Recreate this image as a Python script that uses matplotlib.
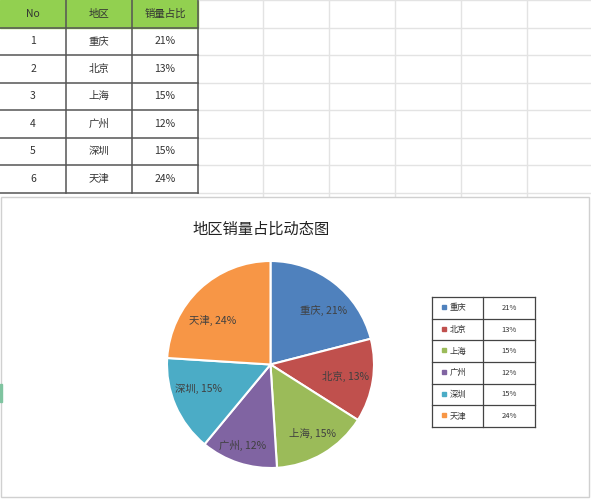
import numpy as np
import matplotlib.pyplot as plt
from matplotlib.patches import Rectangle

plt.rcParams['font.family'] = ['Noto Sans CJK SC', 'DejaVu Sans']

# datos
nums = [1, 2, 3, 4, 5, 6]
regions = ['重庆', '北京', '上海', '广州', '深圳', '天津']
shares = [21, 13, 15, 12, 15, 24]
headers = ['No', '地区', '销量占比']
title = '地区销量占比动态图'
colors = ['#4F81BD', '#C0504D', '#9BBB59', '#8064A2', '#4BACC6', '#F79646']

W, H = 591, 500
fig = plt.figure(figsize=(W / 100, H / 100), dpi=100)

# fondo tipo hoja de cálculo (coordenadas en píxeles)
bg = fig.add_axes([0, 0, 1, 1])
bg.set_xlim(0, W)
bg.set_ylim(H, 0)
bg.axis('off')

grid_c = '#E3E3E3'
row_y = [0, 27.5, 55, 82.5, 110, 137.5, 165, 193]
col_x = [198, 263, 329, 395, 461, 527]
for y in row_y:
    bg.plot([198, W], [y, y], color=grid_c, lw=1)
for x in col_x[1:]:
    bg.plot([x, x], [0, 197], color=grid_c, lw=1)

# tabla de datos
tab_x = [0, 66, 132, 198]
bg.add_patch(Rectangle((0, 0), 198, row_y[1], color='#92D050', zorder=1))
for y in row_y[1:]:
    bg.plot([0, 198], [y, y], color='#555555', lw=1.1, zorder=2)
for x in tab_x[1:]:
    bg.plot([x, x], [0, row_y[-1]], color='#555555', lw=1.1, zorder=2)
cx = [33, 99, 165]
for j, h in enumerate(headers):
    bg.text(cx[j], row_y[1] / 2, h, ha='center', va='center', fontsize=7.5, color='#333333')
for i in range(len(nums)):
    yc = (row_y[i + 1] + row_y[i + 2]) / 2
    bg.text(cx[0], yc, str(nums[i]), ha='center', va='center', fontsize=7.5, color='#333333')
    bg.text(cx[1], yc, regions[i], ha='center', va='center', fontsize=7.5, color='#333333')
    bg.text(cx[2], yc, f'{shares[i]}%', ha='center', va='center', fontsize=7.5, color='#333333')

# área del gráfico
bg.add_patch(Rectangle((1, 197), 588, 300, facecolor='white', edgecolor='#D0D0D0', lw=1, zorder=3))
bg.add_patch(Rectangle((0, 384), 1.5, 18, color='#7FC4A0', zorder=4))
bg.text(261, 229, title, ha='center', va='center', fontsize=11, color='#222222', zorder=5)

# tabla-leyenda
lx0, lx1, lx2 = 432, 483, 535
ly0, ly1 = 297, 427
rh = (ly1 - ly0) / len(regions)
for i in range(len(regions) + 1):
    y = ly0 + i * rh
    bg.plot([lx0, lx2], [y, y], color='#444444', lw=0.9, zorder=5)
for x in (lx0, lx1, lx2):
    bg.plot([x, x], [ly0, ly1], color='#444444', lw=0.9, zorder=5)
for i, (r, s, c) in enumerate(zip(regions, shares, colors)):
    yc = ly0 + (i + 0.5) * rh
    bg.add_patch(Rectangle((442, yc - 3), 4, 4, color=c, zorder=6))
    bg.text(450, yc, r, ha='left', va='center', fontsize=6, color='#333333', zorder=6)
    bg.text((lx1 + lx2) / 2, yc, f'{s}%', ha='center', va='center', fontsize=5.5, color='#333333', zorder=6)

# pastel
pcx, pcy, pr = 270.5, 364.5, 103.5
ax = fig.add_axes([(pcx - pr) / W, (H - pcy - pr) / H, 2 * pr / W, 2 * pr / H])
ax.set_zorder(10)
wedges, texts = ax.pie(shares, colors=colors, startangle=90, counterclock=False,
                       wedgeprops=dict(edgecolor='white', linewidth=1.5))
# distancia radial y giro de cada etiqueta (como la coloca Excel)
label_r = [0.73, 0.73, 0.78, 0.83, 0.735, 0.70]
label_rot = [-6.4, 0, 1, -0.7, -5, 9.4]
for w, r, s, lr, da in zip(wedges, regions, shares, label_r, label_rot):
    ang = np.deg2rad((w.theta1 + w.theta2) / 2 + da)
    ax.text(lr * np.cos(ang), lr * np.sin(ang), f'{r}, {s}%', ha='center', va='center',
            fontsize=7.5, color='#404040')
ax.set_xlim(-1.0, 1.0)
ax.set_ylim(-1.0, 1.0)
ax.axis('off')

fig.savefig('out.png', dpi=100)
